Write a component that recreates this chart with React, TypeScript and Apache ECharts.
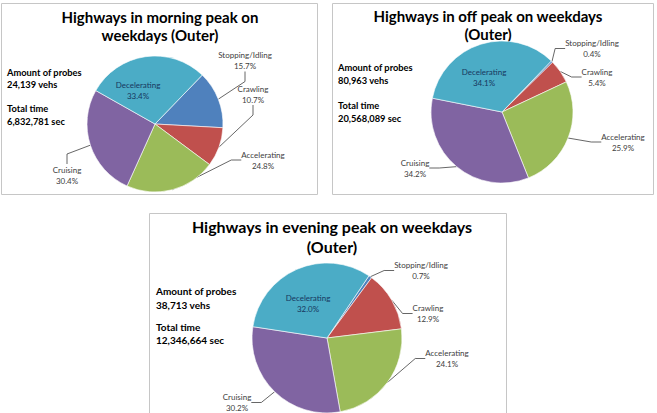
import React, { useEffect, useRef } from "react";
import * as echarts from "echarts";

// Driving-state shares (%) for outer highways on weekdays
const categories = ["Stopping/Idling", "Crawling", "Accelerating", "Cruising", "Decelerating"];
const morningShares = [15.7, 10.7, 24.8, 30.4, 33.4];
const offPeakShares = [0.4, 5.4, 25.9, 34.2, 34.1];
const eveningShares = [0.7, 12.9, 24.1, 30.2, 32.0];
const sliceColors = ["#4F81BD", "#C0504D", "#9BBB59", "#8064A2", "#4BACC6"];

const morningTitle = ["Highways in morning peak on", "weekdays (Outer)"];
const offPeakTitle = ["Highways in off peak on weekdays", "(Outer)"];
const eveningTitle = ["Highways in evening peak on weekdays", "(Outer)"];

const morningInfo = ["Amount of probes", "24,139 vehs", "Total time", "6,832,781 sec"];
const offPeakInfo = ["Amount of probes", "80,963 vehs", "Total time", "20,568,089 sec"];
const eveningInfo = ["Amount of probes", "38,713 vehs", "Total time", "12,346,664 sec"];

const FONT = "Lato, 'Open Sans', sans-serif";
const W = 657;
const H = 413;

// Label box centres per pie, in category order
const labelSpots: number[][][] = [
  [[245, 60.5], [253, 94], [263, 160], [67, 175], [138, 90.5]],
  [[592, 48.5], [597, 77], [623, 142], [415, 168], [484, 77]],
  [[421, 270.5], [428, 313.5], [447, 358.5], [237, 402.5], [308, 303.5]],
];

function pieSeries(values: number[], center: number[], radius: number, startAngle: number, idx: number) {
  return {
    type: "pie",
    center,
    radius,
    startAngle,
    clockwise: true,
    avoidLabelOverlap: false,
    emphasis: { disabled: true },
    itemStyle: { borderColor: "#ffffff", borderWidth: 0.6 },
    label: {
      show: true,
      formatter: (p: any) => `${p.name}\n${Number(p.value).toFixed(1)}%`,
      fontFamily: FONT,
      fontSize: 8,
      lineHeight: 11,
      color: "#404040",
    },
    labelLine: { show: true, length: 8, length2: 10, lineStyle: { color: "#404040", width: 0.8 } },
    labelLayout: (p: any) => {
      const s = labelSpots[idx][p.dataIndex];
      return { x: s[0], y: s[1], align: "center", verticalAlign: "middle" };
    },
    data: categories.map((name, i) => {
      const inside = name === "Decelerating";
      return {
        name,
        value: values[i],
        itemStyle: { color: sliceColors[i] },
        label: inside
          ? { position: "inside", color: "#17375E" }
          : { position: "outside", color: "#404040" },
        labelLine: inside ? { show: false } : { show: true },
      };
    }),
  };
}

function titleTexts(lines: string[], cx: number, y0: number, gap: number, size: number) {
  return lines.map((t, i) => ({
    type: "text",
    style: {
      text: t,
      x: cx,
      y: y0 + i * gap,
      font: `bold ${size}px ${FONT}`,
      fill: "#000",
      textAlign: "center",
      textVerticalAlign: "middle",
    },
  }));
}

function infoTexts(lines: string[], x: number, ys: number[], size: number) {
  return lines.map((t, i) => ({
    type: "text",
    style: {
      text: t,
      x,
      y: ys[i],
      font: `bold ${size}px ${FONT}`,
      fill: "#000",
      textAlign: "left",
      textVerticalAlign: "middle",
    },
  }));
}

function frame(x: number, y: number, w: number, h: number) {
  return {
    type: "rect",
    shape: { x: x + 0.5, y: y + 0.5, width: w, height: h },
    style: { fill: "none", stroke: "#c6c6c6", lineWidth: 1 },
    z: -1,
  };
}

export default function App() {
  const ref = useRef<HTMLDivElement>(null);

  useEffect(() => {
    if (!ref.current) return;
    const chart = echarts.init(ref.current, undefined, { renderer: "svg" });
    chart.setOption({
      animation: false,
      backgroundColor: "#ffffff",
      graphic: [
        frame(1, 3, 316, 191),
        frame(332, 3, 321, 191),
        frame(149, 213, 357, 210),
        ...titleTexts(morningTitle, 160, 17, 18, 15),
        ...titleTexts(offPeakTitle, 488, 16, 18, 15),
        ...titleTexts(eveningTitle, 332, 226, 20.5, 16),
        ...infoTexts(morningInfo, 7, [72, 84.5, 108.5, 121], 9.3),
        ...infoTexts(offPeakInfo, 338, [67.5, 80.5, 105, 118], 9.3),
        ...infoTexts(eveningInfo, 156, [291, 305, 327, 339.5], 10),
      ],
      series: [
        pieSeries(morningShares, [155, 124], 68, 46, 0),
        pieSeries(offPeakShares, [502, 112], 71, 46, 1),
        pieSeries(eveningShares, [327, 338], 75, 56, 2),
      ],
    });
    return () => chart.dispose();
  }, []);

  return (
    <div
      ref={ref}
      style={{ position: "fixed", left: 0, top: 0, width: W, height: H, background: "#fff" }}
    />
  );
}
